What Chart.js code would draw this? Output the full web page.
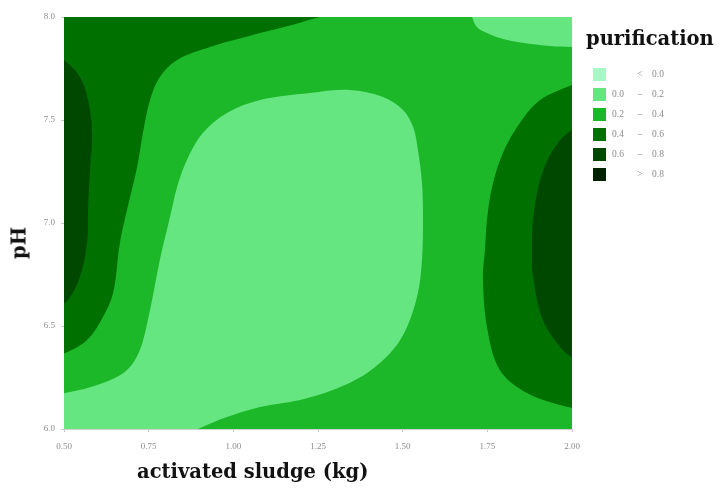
<!DOCTYPE html>
<html>
<head>
<meta charset="utf-8">
<script src="https://cdn.jsdelivr.net/npm/chart.js@4.4.1/dist/chart.umd.min.js"></script>
<style>
  html, body { margin: 0; padding: 0; background: #ffffff; }
  #wrap { position: relative; width: 726px; height: 489px; }
  #chart { position: absolute; left: 0; top: 0; }
  .axis-title { position: absolute; font-family: "DejaVu Serif", "Liberation Serif", serif; font-weight: bold; font-size: 19.5px; color: #111; white-space: nowrap; }
  #xTitle { left: 137px; top: 460px; }
  #yTitle { left: 19px; top: 243px; transform: translate(-50%, -50%) rotate(-90deg); }
  #legendTitle { left: 586px; top: 27px; }
  #legend { position: absolute; left: 593px; top: 67px; font-family: "Liberation Serif", serif; font-size: 9.5px; color: #8c8c8c; }
  .row { position: relative; height: 20px; }
  .sw { position: absolute; left: 0; top: 1px; width: 13px; height: 13px; }
  .lo { position: absolute; left: 19px; top: 2px; width: 18px; text-align: left; }
  .sep { position: absolute; left: 41px; top: 2px; width: 12px; text-align: center; }
  .hi { position: absolute; left: 59px; top: 2px; width: 18px; text-align: left; }
</style>
</head>
<body>
<div id="wrap">
  <canvas id="chart" width="726" height="489"></canvas>
  <div class="axis-title" id="xTitle">activated sludge (kg)</div>
  <div class="axis-title" id="yTitle">pH</div>
  <div class="axis-title" id="legendTitle">purification</div>
  <div id="legend"></div>
</div>
<script>
// Axis ranges and tick labels
const xTicks = [0.50, 0.75, 1.00, 1.25, 1.50, 1.75, 2.00];
const xTickLabels = ['0.50', '0.75', '1.00', '1.25', '1.50', '1.75', '2.00'];
const yTicks = [6.0, 6.5, 7.0, 7.5, 8.0];
const yTickLabels = ['6.0', '6.5', '7.0', '7.5', '8.0'];

// Purification bands (legend)
const bandLow = ['', '0.0', '0.2', '0.4', '0.6', ''];
const bandSep = ['<', '\u2013', '\u2013', '\u2013', '\u2013', '>'];
const bandHigh = ['0.0', '0.2', '0.4', '0.6', '0.8', '0.8'];
const bandColors = ['#a8f7c4', '#66e680', '#1cb82a', '#007000', '#004800', '#002200'];

// Contour regions: closed outlines in (sludge kg, pH); corners beyond the axes are clipped away
const regionMidAll = [[0.40, 5.90], [2.10, 5.90], [2.10, 8.10], [0.40, 8.10]];

const regionDarkLeft = [
  [1.40, 8.10], [1.34, 8.03], [1.256, 8.0], [1.17, 7.96], [1.079, 7.922], [0.931, 7.854],
  [0.834, 7.791], [0.783, 7.709], [0.754, 7.597], [0.733, 7.437], [0.716, 7.272],
  [0.686, 7.063], [0.665, 6.903], [0.645, 6.660], [0.615, 6.544], [0.568, 6.432],
  [0.503, 6.369], [0.45, 6.35], [0.40, 6.34], [0.40, 8.10]
];

const regionDarkestLeft = [
  [0.40, 7.83], [0.47, 7.81], [0.50, 7.791], [0.547, 7.709], [0.571, 7.597], [0.583, 7.437],
  [0.577, 7.272], [0.571, 7.063], [0.568, 6.903], [0.547, 6.738], [0.518, 6.641],
  [0.49, 6.60], [0.40, 6.58]
];

const regionLightCenter = [
  [0.40, 5.90], [0.40, 6.165], [0.503, 6.175], [0.615, 6.223], [0.686, 6.286], [0.724, 6.383],
  [0.754, 6.578], [0.783, 6.820], [0.813, 7.029], [0.834, 7.175], [0.863, 7.306],
  [0.910, 7.437], [0.981, 7.534], [1.079, 7.597], [1.226, 7.631], [1.344, 7.646],
  [1.442, 7.612], [1.501, 7.549], [1.531, 7.466], [1.545, 7.354], [1.557, 7.194],
  [1.560, 7.015], [1.557, 6.820], [1.545, 6.660], [1.513, 6.495], [1.471, 6.383],
  [1.395, 6.272], [1.294, 6.189], [1.197, 6.141], [1.079, 6.107], [0.981, 6.058],
  [0.902, 6.005], [0.86, 5.97], [0.80, 5.90]
];

const regionLightTopRight = [
  [2.10, 8.10], [1.695, 8.10], [1.700, 8.03], [1.705, 8.0], [1.719, 7.951], [1.749, 7.922],
  [1.787, 7.898], [1.838, 7.879], [1.935, 7.859], [2.0, 7.854], [2.10, 7.85]
];

const regionDarkRight = [
  [2.10, 7.73], [2.0, 7.670], [1.906, 7.597], [1.846, 7.485], [1.796, 7.340], [1.764, 7.175],
  [1.749, 7.015], [1.743, 6.869], [1.737, 6.738], [1.749, 6.495], [1.787, 6.286],
  [1.867, 6.175], [2.0, 6.102], [2.10, 6.08]
];

const regionDarkestRight = [
  [2.10, 7.50], [2.0, 7.451], [1.944, 7.354], [1.906, 7.209], [1.885, 7.015], [1.882, 6.869],
  [1.885, 6.738], [1.914, 6.529], [1.965, 6.398], [2.0, 6.350], [2.10, 6.31]
];

function toPoints(arr) { return arr.map(p => ({ x: p[0], y: p[1] })); }

function region(outline, color, order, tension) {
  return {
    data: toPoints(outline),
    showLine: true,
    fill: 'shape',
    backgroundColor: color,
    borderColor: color,
    borderWidth: 0,
    pointRadius: 0,
    pointHoverRadius: 0,
    tension: tension,
    order: order
  };
}

const datasets = [
  region(regionLightCenter, bandColors[1], 1, 0.35),
  region(regionLightTopRight, bandColors[1], 1, 0.35),
  region(regionDarkestLeft, bandColors[4], 2, 0.35),
  region(regionDarkestRight, bandColors[4], 2, 0.35),
  region(regionDarkLeft, bandColors[3], 3, 0.35),
  region(regionDarkRight, bandColors[3], 3, 0.35),
  region(regionMidAll, bandColors[2], 4, 0)
];

const tickFont = { family: 'Liberation Serif', size: 9 };

new Chart(document.getElementById('chart'), {
  type: 'scatter',
  data: { datasets: datasets },
  options: {
    responsive: false,
    animation: false,
    events: [],
    layout: { padding: { top: 17, right: 154, left: 0, bottom: 0 } },
    plugins: { legend: { display: false }, tooltip: { enabled: false } },
    elements: { line: { capBezierPoints: false } },
    scales: {
      x: {
        type: 'linear', min: 0.5, max: 2.0,
        afterBuildTicks: s => { s.ticks = xTicks.map(v => ({ value: v })); },
        afterFit: s => { s.height = 60; },
        ticks: {
          font: tickFont, color: '#8c8c8c', padding: 9, maxRotation: 0,
          callback: (v) => xTickLabels[xTicks.indexOf(v)]
        },
        grid: { drawOnChartArea: false, drawTicks: true, tickLength: 3, color: '#c8c8c8' },
        border: { display: true, color: '#d0d0d0', width: 1 }
      },
      y: {
        type: 'linear', min: 6.0, max: 8.0,
        afterBuildTicks: s => { s.ticks = yTicks.map(v => ({ value: v })); },
        afterFit: s => { s.width = 64; },
        ticks: {
          font: tickFont, color: '#8c8c8c', padding: 6,
          callback: (v) => yTickLabels[yTicks.indexOf(v)]
        },
        grid: { drawOnChartArea: false, drawTicks: true, tickLength: 3, color: '#c8c8c8' },
        border: { display: true, color: '#d0d0d0', width: 1 }
      }
    }
  }
});

// Legend rows
const legend = document.getElementById('legend');
bandColors.forEach((c, i) => {
  const row = document.createElement('div');
  row.className = 'row';
  row.innerHTML = '<span class="sw" style="background:' + c + '"></span>' +
    '<span class="lo">' + bandLow[i] + '</span>' +
    '<span class="sep">' + bandSep[i] + '</span>' +
    '<span class="hi">' + bandHigh[i] + '</span>';
  legend.appendChild(row);
});
</script>
</body>
</html>
